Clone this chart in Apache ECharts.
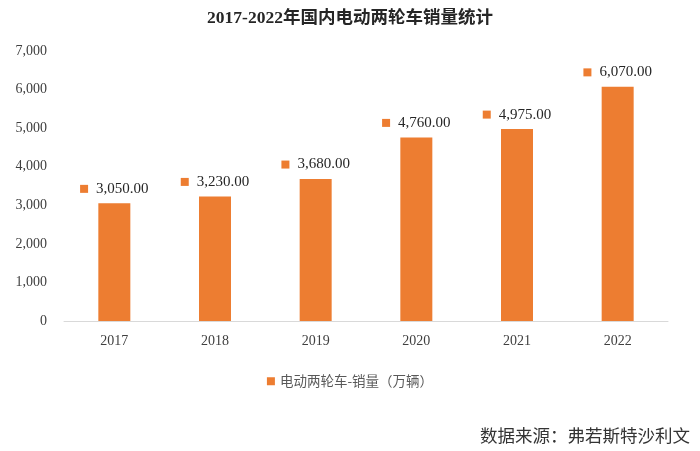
<!DOCTYPE html>
<html><head><meta charset="utf-8">
<script src="https://cdn.jsdelivr.net/npm/echarts@6/dist/echarts.min.js"></script>
<style>html,body{margin:0;padding:0;background:#fff}#c{width:700px;height:451px}</style>
</head><body><div id="c"></div>
<script>
const titleText = '2017-2022年国内电动两轮车销量统计';
const categories = ['2017','2018','2019','2020','2021','2022'];
const seriesName = '电动两轮车-销量（万辆）';
const salesValues = [3050, 3230, 3680, 4760, 4975, 6070];
const sourceText = '数据来源：弗若斯特沙利文';

const serif = '"Liberation Serif", "Noto Sans CJK SC", serif';
const fmt = v => v.toLocaleString('en-US');
const fmt2 = v => v.toLocaleString('en-US',{minimumFractionDigits:2,maximumFractionDigits:2});
const chart = echarts.init(document.getElementById('c'));
chart.setOption({
  backgroundColor:'#fff',
  animation:false,
  title:{text:titleText,left:'center',top:5,textStyle:{fontFamily:serif,fontSize:17.5,fontWeight:'bold',color:'#262626'}},
  grid:{left:64,right:32,top:51,bottom:130},
  legend:{bottom:58,left:'center',itemWidth:8,itemHeight:8,icon:'rect',itemGap:5,
    textStyle:{fontFamily:'"Noto Sans CJK SC", sans-serif',fontSize:13.5,color:'#595959'},data:[seriesName]},
  xAxis:{type:'category',data:categories,
    axisLine:{lineStyle:{color:'#d9d9d9'}},axisTick:{show:false},
    axisLabel:{fontFamily:serif,fontSize:14,color:'#404040',margin:13}},
  yAxis:{type:'value',min:0,max:7000,interval:1000,
    splitLine:{show:false},axisLine:{show:false},axisTick:{show:false},
    axisLabel:{fontFamily:serif,fontSize:14,color:'#404040',margin:17,formatter:fmt}},
  graphic:[{type:'text',right:10,bottom:7,style:{text:sourceText,fontFamily:'"Noto Sans CJK SC", sans-serif',fontSize:17.5,fill:'#333'}}],
  series:[{type:'bar',name:seriesName,data:salesValues,barWidth:32,
    itemStyle:{color:'#ED7D31'},
    label:{show:true,position:'top',distance:7,
      formatter:p=>'{m|}{v|'+fmt2(p.value)+'}',
      rich:{m:{width:8,height:8,backgroundColor:'#ED7D31',padding:0},
            v:{fontFamily:serif,fontSize:15,color:'#262626',padding:[0,0,0,8]}}}}]
});
</script></body></html>
